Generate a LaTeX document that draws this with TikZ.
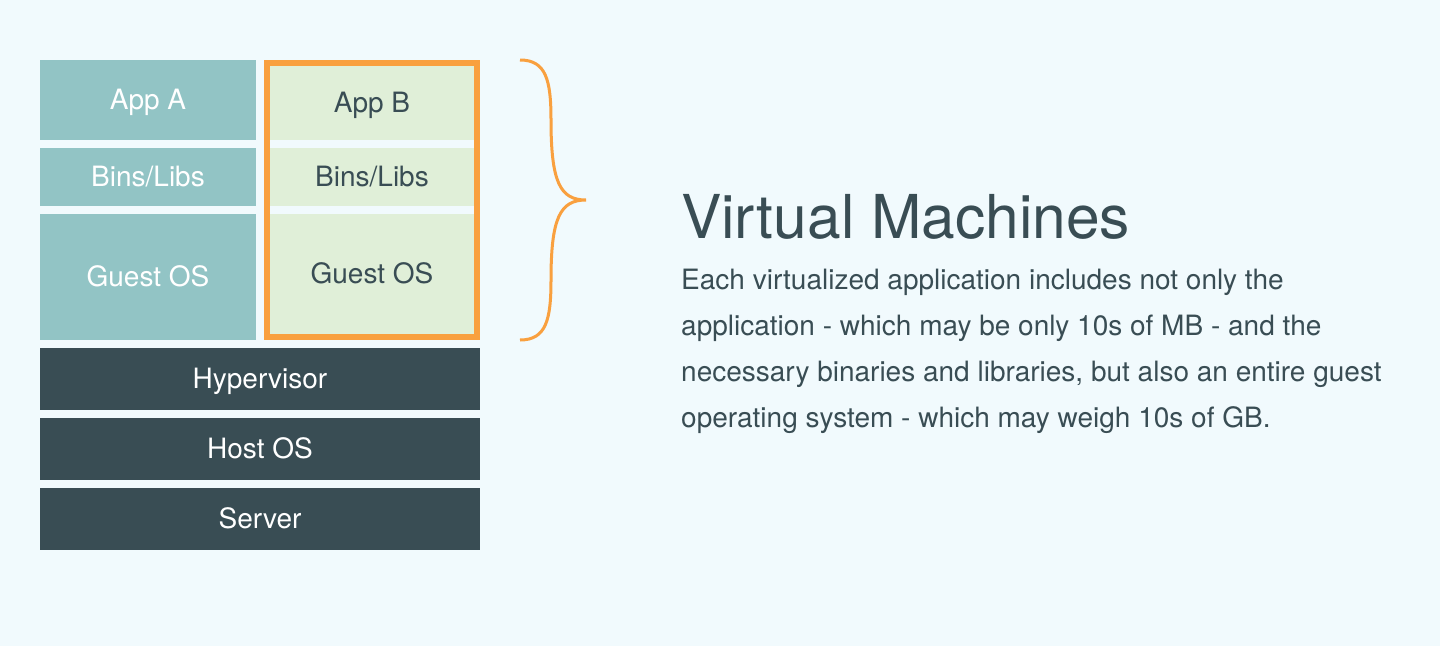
\documentclass[tikz,border=0pt]{standalone}
\usepackage{fontspec}
\setmainfont{TeX Gyre Heros}
\usetikzlibrary{positioning, fit}
\definecolor{vmbg}{HTML}{F1FAFD}
\definecolor{appteal}{HTML}{92C4C5}
\definecolor{appgreen}{HTML}{E0EFD8}
\definecolor{vmorange}{HTML}{F9A03F}
\definecolor{slate}{HTML}{394D54}
\tikzset{
    tealbox/.style={rectangle, fill=appteal, text=white, minimum width=216pt, inner sep=0pt, outer sep=0pt, text height=20pt, text depth=1pt, text centered, font=\fontsize{28}{32}\selectfont},
    greenbox/.style={rectangle, fill=appgreen, text=slate, minimum width=204pt, inner sep=0pt, outer sep=0pt, text height=20pt, text depth=1pt, text centered, font=\fontsize{28}{32}\selectfont},
    layer/.style={rectangle, fill=slate, text=white, minimum width=440pt, minimum height=62pt, inner sep=0pt, outer sep=0pt, text height=20pt, text depth=1pt, text centered, font=\fontsize{28}{32}\selectfont},
    vmframe/.style={rectangle, draw=vmorange, line width=6pt, inner sep=3pt},
    bracket/.style={draw=vmorange, line width=3pt},
}

\begin{document}
\begin{tikzpicture}[x=1pt, y=1pt, node distance=8pt]
        \fill[vmbg] (0,0) rectangle (1440,-646);

        % guest A
        \node[tealbox, minimum height=80pt] (appA) at (148,-100) {App A};
        \node[tealbox, minimum height=58pt, below=of appA] (binsA) {Bins/Libs};
        \node[tealbox, minimum height=126pt, below=of binsA] (guestA) {Guest OS};

        % guest B
        \node[greenbox, minimum height=74pt] (appB) at (372,-103) {App B};
        \node[greenbox, minimum height=58pt, below=of appB] (binsB) {Bins/Libs};
        \node[greenbox, minimum height=120pt, below=of binsB] (guestB) {Guest OS};
        \node[vmframe, fit=(appB)(guestB)] (vmB) {};

        % shared layers
        \node[layer] (hyper) at (260,-379) {Hypervisor};
        \node[layer, below=of hyper] (hostos) {Host OS};
        \node[layer, below=of hostos] (server) {Server};

        % brace
        \coordinate (braceTop) at (520,-60);
        \coordinate (braceTip) at (586,-200);
        \coordinate (braceBot) at (520,-340);
        \draw[bracket] (braceTop) .. controls (546,-60) and (551,-80) .. (551,-120)
            .. controls (551,-182) and (560,-200) .. (braceTip)
            .. controls (560,-200) and (551,-218) .. (551,-280)
            .. controls (551,-320) and (546,-340) .. (braceBot);

        \node[anchor=base west, text=slate, inner sep=0pt, font=\fontsize{60.5}{70}\selectfont] (vmtitle) at (681,-238.5) {Virtual Machines};
        \node[anchor=base west, align=left, text=slate, inner sep=0pt, font=\fontsize{28}{46}\selectfont] (vmtext) at (681,-427.3) {Each virtualized application includes not only the\\
            application - which may be only 10s of MB - and the\\
            necessary binaries and libraries, but also an entire guest\\
            operating system - which may weigh 10s of GB.};
    \end{tikzpicture}
\end{document}
